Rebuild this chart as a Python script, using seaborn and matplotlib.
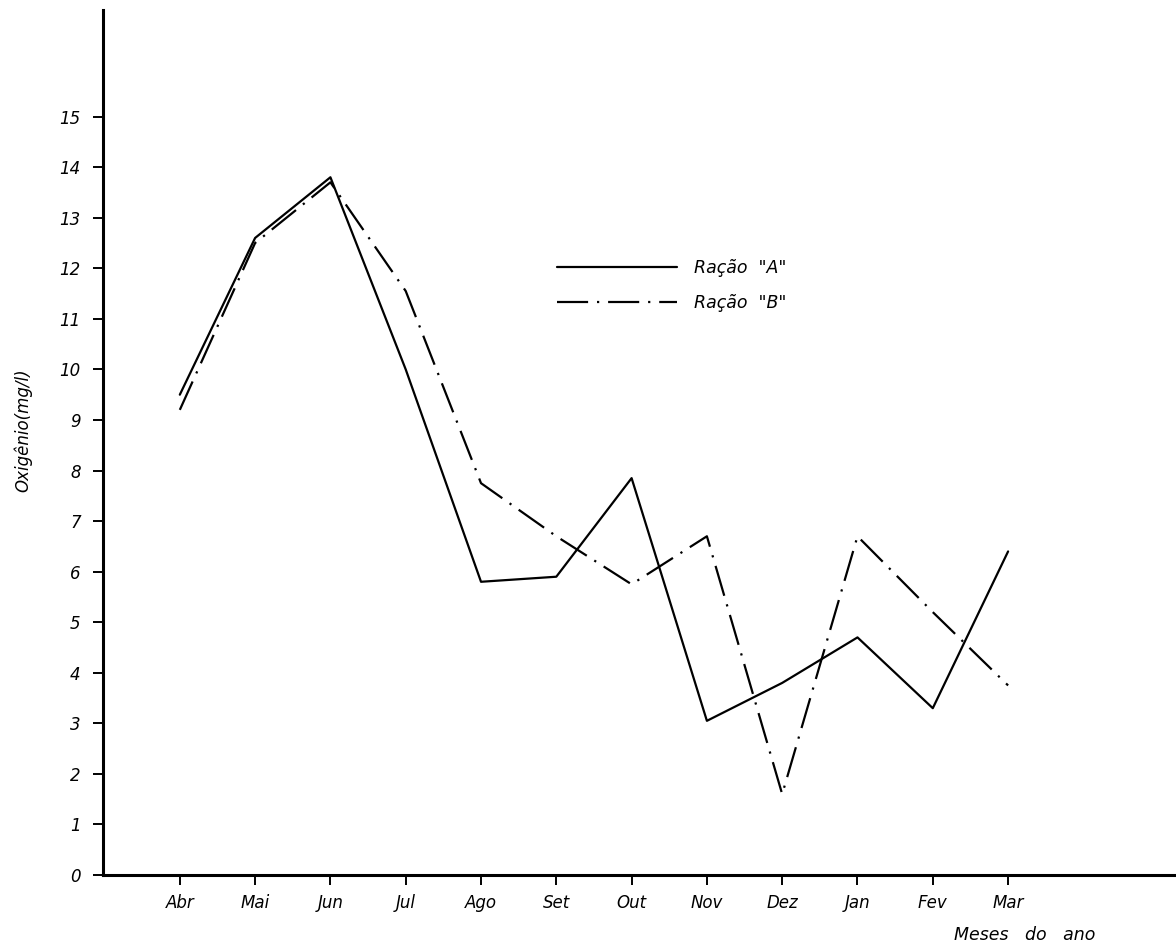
import pandas as pd
import matplotlib.pyplot as plt
import seaborn as sns

# monthly dissolved oxygen
months = ["Abr", "Mai", "Jun", "Jul", "Ago", "Set", "Out", "Nov", "Dez", "Jan", "Fev", "Mar"]
racao_a = [9.5, 12.6, 13.8, 10.0, 5.8, 5.9, 7.85, 3.05, 3.8, 4.7, 3.3, 6.4]
racao_b = [9.2, 12.5, 13.7, 11.55, 7.75, 6.7, 5.75, 6.7, 1.6, 6.7, 5.2, 3.75]
series_names = ['Ração  "A"', 'Ração  "B"']
y_ticks = list(range(0, 16))

df = pd.DataFrame({
    "mes": list(range(len(months))) * 2,
    "oxigenio": racao_a + racao_b,
    "serie": [series_names[0]] * len(months) + [series_names[1]] * len(months),
})

sns.set_style("ticks")
plt.rcParams["font.family"] = ["DejaVu Sans"]
plt.rcParams["font.style"] = "oblique"
plt.rcParams["text.color"] = "black"
plt.rcParams["xtick.color"] = "black"
plt.rcParams["ytick.color"] = "black"

fig = plt.figure(figsize=(11.76, 9.46), dpi=100)
ax = fig.add_axes([0.0876, 0.075, 0.9124, 0.914])

sns.lineplot(
    data=df, x="mes", y="oxigenio", style="serie",
    dashes={series_names[0]: "", series_names[1]: (14, 4, 1, 4)},
    color="black", linewidth=1.6, ax=ax, legend=False,
)

ax.set_xlim(-1.02, 13.23)
ax.set_ylim(0, 17.1)
ax.set_xticks(range(len(months)))
ax.set_xticklabels(months, style="oblique", fontsize=12)
ax.set_yticks(y_ticks)
ax.set_yticklabels([str(v) for v in y_ticks], style="oblique", fontsize=12)
ax.tick_params(axis="both", length=7, width=1.4, colors="black")
ax.tick_params(axis="x", pad=7)
ax.tick_params(axis="y", pad=9)

for side in ["top", "right"]:
    ax.spines[side].set_visible(False)
for side in ["left", "bottom"]:
    ax.spines[side].set_linewidth(2.2)
    ax.spines[side].set_color("black")

ax.set_xlabel("")
ax.set_ylabel("")
fig.text(0.02, 0.545, "Oxigênio(mg/l)", rotation=90, ha="center", va="center",
         fontsize=12, style="oblique", color="black")
fig.text(0.871, 0.002, "Meses   do   ano", ha="center", va="bottom",
         fontsize=12.5, style="oblique", color="black")

lines = ax.get_lines()
leg = ax.legend(lines[:2], series_names, loc="center left", bbox_to_anchor=(0.423, 0.682),
                frameon=False, handlelength=6.9, handletextpad=1.0, labelspacing=1.0,
                borderpad=0, borderaxespad=0, prop={"size": 12.5, "style": "oblique"})
for t in leg.get_texts():
    t.set_color("black")

fig.savefig("out.png", dpi=100, facecolor="white")
plt.close(fig)
